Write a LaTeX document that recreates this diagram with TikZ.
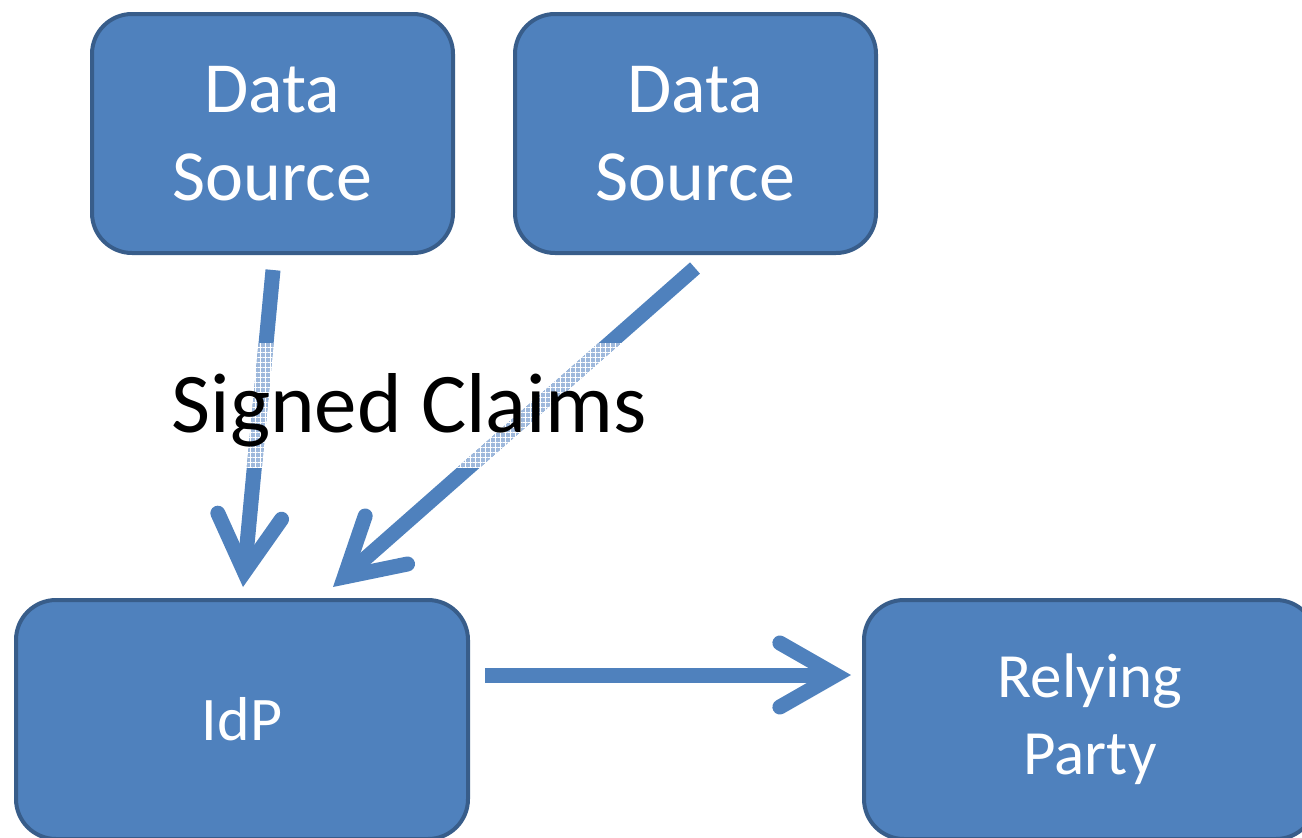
\documentclass[tikz,border=0pt]{standalone}
\usepackage{fontspec}
\setmainfont{Carlito}
\usetikzlibrary{arrows.meta,patterns.meta}
\definecolor{boxfill}{HTML}{4F81BD}
\definecolor{boxline}{HTML}{385D8A}
\definecolor{hatch}{HTML}{9FB9DC}
\begin{document}
\begin{tikzpicture}[x=1pt,y=-1pt,
  box/.style={draw=boxline,line width=4pt,fill=boxfill,rounded corners=40pt,text=white,align=center,inner sep=0pt},
  conn/.style={draw=boxfill,line width=15pt,line cap=butt},
  tipped/.style={-{Straight Barb[length=56pt,width=64pt,line cap=round,line join=miter]}}]
\useasboundingbox (0,0) rectangle (1302,838);
\node[box,minimum width=361pt,minimum height=239pt,font=\fontsize{72}{88}\selectfont] (ds1) at (272.5,133.5) {Data\\Source};
\node[box,minimum width=361pt,minimum height=239pt,font=\fontsize{72}{88}\selectfont] (ds2) at (695.5,133.5) {Data\\Source};
\node[box,minimum width=452pt,minimum height=239pt,font=\fontsize{62}{76}\selectfont] (idp) at (242,719.5) {IdP};
\node[box,minimum width=452pt,minimum height=239pt,font=\fontsize{63}{77}\selectfont] (rp) at (1090,719.5) {Relying\\Party};
\coordinate (a1s) at (273,270);
\coordinate (a1e) at (243,587);
\coordinate (a2s) at (695,268);
\coordinate (a2e) at (333,587);
\coordinate (a3s) at (485,675);
\coordinate (a3e) at (851,675);
\draw[conn,tipped] (a1s) -- (a1e);
\draw[conn,tipped] (a2s) -- (a2e);
\draw[conn,tipped] (a3s) -- (a3e);
\begin{scope}
  \clip (150,343) rectangle (660,467);
  \draw[conn,draw=hatch] (a1s) -- (a1e);
  \draw[conn,draw=hatch] (a2s) -- (a2e);
  \fill[pattern={Hatch[angle=0,distance=5pt,line width=1pt]},pattern color=white] (150,343) rectangle (660,467);
\end{scope}
\node[font=\fontsize{85}{100}\selectfont,inner sep=0pt,anchor=base] (lbl) at (409.5,432) {Signed Claims};
\end{tikzpicture}
\end{document}
